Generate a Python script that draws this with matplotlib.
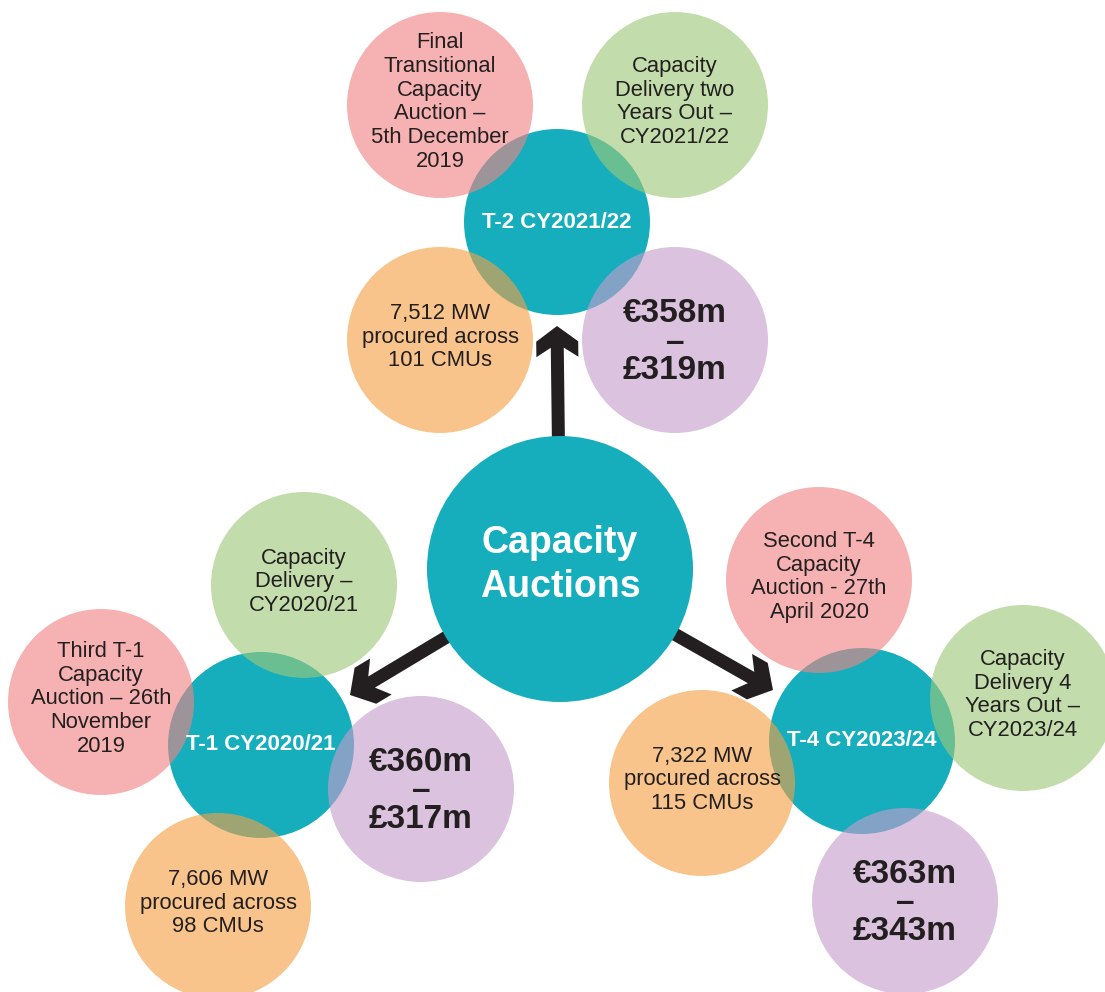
import matplotlib
matplotlib.use("Agg")
import numpy as np
import matplotlib.pyplot as plt
from matplotlib.patches import Circle, Polygon

plt.rcParams["font.family"] = ["Liberation Sans", "DejaVu Sans"]

# chart content
title = "Capacity\nAuctions"
hub_labels = ["T-2 CY2021/22", "T-1 CY2020/21", "T-4 CY2023/24"]
auction_labels = [
    "Final\nTransitional\nCapacity\nAuction –\n5th December\n2019",
    "Third T-1\nCapacity\nAuction – 26th\nNovember\n2019",
    "Second T-4\nCapacity\nAuction - 27th\nApril 2020",
]
delivery_labels = [
    "Capacity\nDelivery two\nYears Out –\nCY2021/22",
    "Capacity\nDelivery –\nCY2020/21",
    "Capacity\nDelivery 4\nYears Out –\nCY2023/24",
]
procured_mw = [7512, 7606, 7322]
procured_cmus = [101, 98, 115]
price_eur_m = [358, 360, 363]
price_gbp_m = [319, 317, 343]

# layout (pixel space, y down)
W, H = 1105, 992
center = (560, 569)
center_r = 133
hub_r = 93
sat_r = 93
hub_xy = [(557, 222), (261, 745), (862, 741)]
# offsets of auction, delivery, procured, price circles from each hub
sat_offsets = [
    [(-117, -117), (118, -117), (-117, 118), (118, 118)],
    [(-160, -43), (43, -160), (-43, 161), (160, 44)],
    [(-43, -161), (161, -43), (-160, 42), (43, 160)],
]
arrow_tips = [(557, 326), (350, 695), (773, 690)]

TEAL = "#16AEBD"
DARK = "#231F20"
sat_colors = ["#F28484", "#9DC878", "#F5A145", "#C59DCA"]
SAT_ALPHA = 0.62


def draw_arrow(ax, start, tip, head=30):
    # chevron-headed arrow; outline given as (back along shaft, across) in px
    tip = np.array(tip, float)
    d = np.array(start, float) - tip
    length = np.hypot(*d)
    u = d / length
    v = np.array([-u[1], u[0]])
    half = 6.5
    outline = [(0, 0), (head * 0.5, 21), (head, 21), (head * 0.7, half),
               (length, half), (length, -half), (head * 0.7, -half),
               (head, -21), (head * 0.5, -21)]
    pts = [tip + a * u + b * v for a, b in outline]
    ax.add_patch(Polygon(pts, closed=True, color=DARK, lw=0, zorder=4))


fig = plt.figure(figsize=(W / 100, H / 100), dpi=100)
ax = fig.add_axes([0, 0, 1, 1])
ax.set_xlim(0, W)
ax.set_ylim(H, 0)
ax.set_aspect("equal")
ax.axis("off")

for i, (hx, hy) in enumerate(hub_xy):
    ax.add_patch(Circle((hx, hy), hub_r, color=TEAL, lw=0, zorder=1))
    ax.text(hx, hy, hub_labels[i], color="white", fontsize=16,
            fontweight="bold", ha="center", va="center", zorder=10)

    texts = [
        auction_labels[i],
        delivery_labels[i],
        f"{procured_mw[i]:,} MW\nprocured across\n{procured_cmus[i]} CMUs",
    ]
    for j, (dx, dy) in enumerate(sat_offsets[i]):
        sx, sy = hx + dx, hy + dy
        ax.add_patch(Circle((sx, sy), sat_r, color=sat_colors[j],
                            alpha=SAT_ALPHA, lw=0, zorder=2))
        if j < 3:
            ax.text(sx, sy - 3, texts[j], color=DARK, fontsize=15.8,
                    ha="center", va="center", multialignment="center",
                    linespacing=1.17, zorder=10)
        else:
            ax.text(sx, sy + 2, f"€{price_eur_m[i]}m\n–\n£{price_gbp_m[i]}m",
                    color=DARK, fontsize=24, fontweight="bold",
                    ha="center", va="center", multialignment="center",
                    linespacing=0.9, zorder=10)

for i, tip in enumerate(arrow_tips):
    draw_arrow(ax, center, tip, head=31 if i == 0 else 36)

ax.add_patch(Circle(center, center_r, color=TEAL, lw=0, zorder=5))
ax.text(center[0], center[1] - 4, title, color="white", fontsize=27,
        fontweight="bold", ha="center", va="center", linespacing=1.27,
        zorder=10)

fig.savefig("out.png", dpi=100)
